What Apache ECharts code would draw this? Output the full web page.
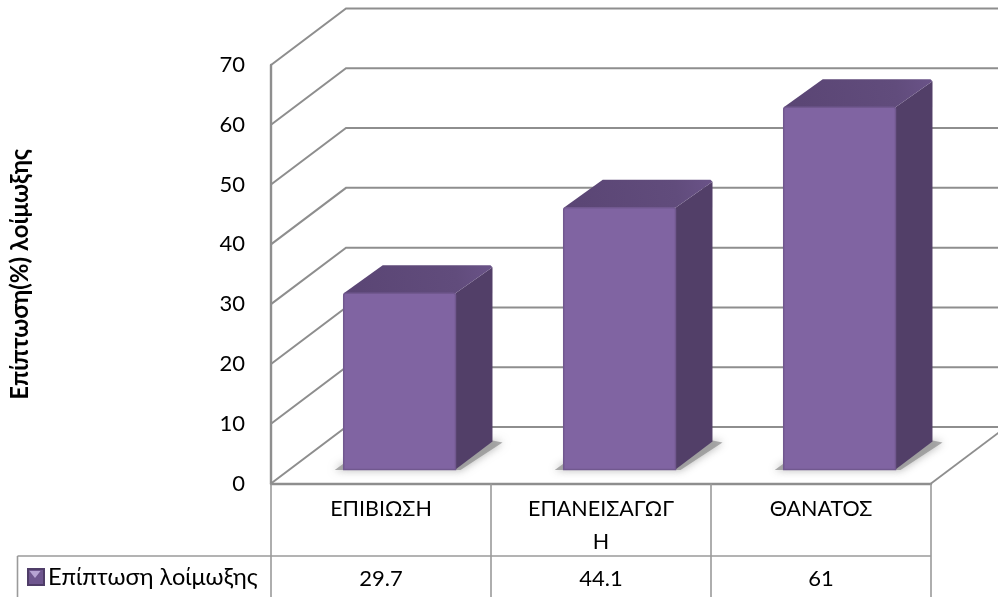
<!DOCTYPE html>
<html>
<head>
<meta charset="utf-8">
<style>html,body{margin:0;padding:0;background:#fff}#c{width:998px;height:597px}</style>
<script src="https://cdn.jsdelivr.net/npm/echarts@6/dist/echarts.min.js"></script>
</head>
<body>
<div id="c"></div>
<script>
const categories = ['ΕΠΙΒΙΩΣΗ', 'ΕΠΑΝΕΙΣΑΓΩΓ\nΗ', 'ΘΑΝΑΤΟΣ'];
const values = [29.7, 44.1, 61];
const gridValues = [0, 10, 20, 30, 40, 50, 60, 70];
const seriesName = 'Επίπτωση λοίμωξης';
const axisTitle = 'Επίπτωση(%) λοίμωξης';

const FONT = 'Lato, "Open Sans", sans-serif';
const LINE = '#8e8e8e';
// Oblique projection used for the box: depth of the whole chart and of one bar.
const WALL = [75, -56.5];
const BAR = [37, -28];
const BAR_PLANE = [18.6, -14];
const BAR_SCALE = 0.993;

const chart = echarts.init(document.getElementById('c'), null, {renderer: 'canvas'});

function poly(points, style) {
  return {type: 'polygon', shape: {points}, style};
}

function renderWall(params, api) {
  const v = api.value(0);
  const [x0, y] = api.coord([0, v]);
  const left = x0 - api.size([1, 0])[0] / 2;
  const right = left + 3 * api.size([1, 0])[0];
  const children = [{
    type: 'polyline',
    shape: {points: [[left, y], [left + WALL[0], y + WALL[1]], [right + WALL[0], y + WALL[1]]]},
    style: {stroke: LINE, lineWidth: 2, fill: null}
  }];
  if (v === 0) {
    children.push({
      type: 'line',
      shape: {x1: right, y1: y, x2: right + WALL[0], y2: y + WALL[1]},
      style: {stroke: LINE, lineWidth: 1.8}
    });
  }
  return {type: 'group', children};
}

function renderBar(params, api) {
  const i = api.value(0);
  const v = api.value(1);
  const [cx, y0] = api.coord([i, 0]);
  const yv = api.coord([i, v])[1];
  const w = api.size([1, 0])[0] * 0.508;
  const x1 = cx + BAR_PLANE[0] - w / 2;
  const x2 = x1 + w;
  const yb = y0 + BAR_PLANE[1];
  const yt = yb - (y0 - yv) * BAR_SCALE;
  const bx = BAR[0], by = BAR[1];
  return {
    type: 'group',
    children: [
      // soft cast shadow on the floor
      poly([[x1 - 9, yb + 0.5], [x2 + 5, yb + 0.5], [x2 + bx + 10, yb + by + 1], [x2 + bx, yb + by - 1], [x2, yb - 6], [x1, yb - 6]], {
        fill: 'rgba(140,140,140,0.7)', shadowBlur: 9, shadowColor: 'rgba(140,140,140,1)'
      }),
      // right side
      poly([[x2, yb], [x2 + bx, yb + by], [x2 + bx, yt + by + 2], [x2, yt]], {fill: '#523f68'}),
      // top face
      poly([[x1, yt], [x1 + bx + 2, yt + by], [x2 + bx - 2, yt + by], [x2 + bx, yt + by + 2], [x2, yt]], {
        fill: new echarts.graphic.LinearGradient(0, 1, 1, 0, [
          {offset: 0, color: '#5a4574'}, {offset: 0.75, color: '#614c7c'}, {offset: 1, color: '#6a5388'}
        ])
      }),
      // front face with its bevelled border
      {type: 'rect', shape: {x: x1, y: yt, width: w, height: yb - yt, r: [2, 2, 0, 0]},
        style: {fill: '#8064a2', stroke: '#71588f', lineWidth: 1.5}}
    ]
  };
}

chart.setOption({
  animation: false,
  backgroundColor: '#ffffff',
  textStyle: {fontFamily: FONT},
  legend: {
    left: 27, top: 565, padding: 0, itemGap: 0,
    itemWidth: 16, itemHeight: 16,
    icon: 'rect',
    data: [seriesName],
    textStyle: {fontFamily: FONT, fontSize: 23.6, color: '#000', padding: [1, 0, 0, -1]}
  },
  grid: {left: 271, right: 67, top: 65, bottom: 113.5, containLabel: false, outerBoundsMode: 'none'},
  xAxis: [{
    type: 'category',
    data: categories,
    axisLine: {lineStyle: {color: LINE, width: 2.4}},
    axisTick: {show: true, length: 114, lineStyle: {color: '#9a9a9a', width: 1.6}},
    axisLabel: {
      color: '#000', fontFamily: FONT, fontSize: 21.5, lineHeight: 33, margin: 9, interval: 0, align: 'center'
    }
  }, {
    type: 'category',
    position: 'bottom',
    data: values.map(String),
    axisLine: {show: false},
    axisTick: {show: false},
    axisLabel: {color: '#000', fontFamily: FONT, fontSize: 22, margin: 84, interval: 0}
  }],
  yAxis: {
    type: 'value', min: 0, max: 70, interval: 10,
    name: axisTitle,
    nameLocation: 'middle',
    nameRotate: 90,
    nameGap: 239,
    nameTextStyle: {fontFamily: FONT, fontWeight: 'bold', fontSize: 24, color: '#000'},
    axisLine: {show: true, lineStyle: {color: LINE, width: 2.4}},
    axisTick: {show: false},
    splitLine: {show: false},
    axisLabel: {color: '#000', fontFamily: FONT, fontSize: 22, margin: 26}
  },
  series: [{
    type: 'custom',
    coordinateSystem: 'cartesian2d',
    silent: true,
    clip: false,
    z: 1,
    encode: {x: -1, y: 0},
    data: gridValues.map(v => [v]),
    renderItem: renderWall
  }, {
    type: 'custom',
    name: seriesName,
    coordinateSystem: 'cartesian2d',
    clip: false,
    z: 2,
    encode: {x: 0, y: 1},
    itemStyle: {
      color: '#6f568f',
      borderColor: '#4f3d68',
      borderWidth: 1
    },
    data: values.map((v, i) => [i, v]),
    renderItem: renderBar
  }],
  graphic: [
    // frame of the data row under the plot
    {type: 'line', silent: true, shape: {x1: 17.5, y1: 556, x2: 931, y2: 556}, style: {stroke: '#9a9a9a', lineWidth: 1.6}},
    {type: 'line', silent: true, shape: {x1: 17.5, y1: 556, x2: 17.5, y2: 597}, style: {stroke: '#9a9a9a', lineWidth: 1.6}},
    // highlight facet on the legend key
    {type: 'polygon', silent: true, z: 100, shape: {points: [[29.5, 571], [40.5, 571], [35, 578]]}, style: {fill: '#b7a3d3'}}
  ]
});
</script>
</body>
</html>
